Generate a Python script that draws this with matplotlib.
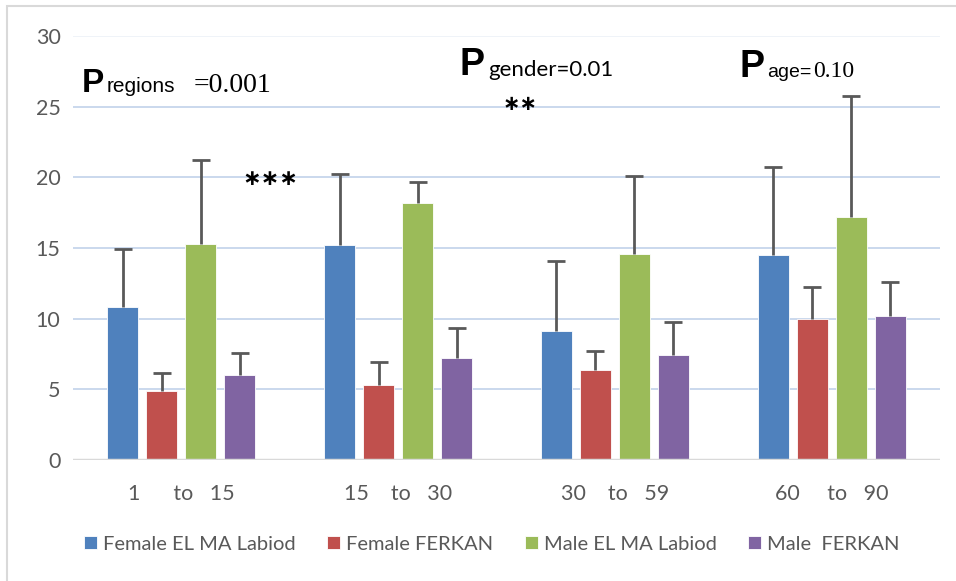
import numpy as np
import matplotlib
matplotlib.use("Agg")
from matplotlib import pyplot as plt
from matplotlib.patches import Rectangle

age_groups = ["1      to   15", "15    to   30", "30    to   59", "60     to   90"]
series = ["Female EL MA Labiod", "Female FERKAN", "Male EL MA Labiod", "Male  FERKAN"]
colors = ["#4f81bd", "#c0504d", "#9bbb59", "#8064a2"]

female_labiod = [10.8, 15.2, 9.1, 14.5]
female_ferkan = [4.9, 5.3, 6.35, 9.95]
male_labiod = [15.3, 18.2, 14.55, 17.2]
male_ferkan = [6.0, 7.2, 7.4, 10.2]

female_labiod_sd = [4.1, 5.05, 4.95, 6.25]
female_ferkan_sd = [1.25, 1.65, 1.35, 2.3]
male_labiod_sd = [5.9, 1.5, 5.55, 8.55]
male_ferkan_sd = [1.55, 2.15, 2.35, 2.4]

means = [female_labiod, female_ferkan, male_labiod, male_ferkan]
sds = [female_labiod_sd, female_ferkan_sd, male_labiod_sd, male_ferkan_sd]

W, H = 956, 581
fig = plt.figure(figsize=(W / 100, H / 100), dpi=100)
plt.rcParams['font.family'] = ['Lato', 'DejaVu Sans']

# outer frame of the chart area
fig.patches.append(Rectangle((7 / W, -0.1), 1.2, (H - 6) / H + 0.1, transform=fig.transFigure,
                             fill=False, edgecolor="#d9d9d9", linewidth=1.5))

ax = fig.add_axes([73 / W, 121 / H, (940 - 73) / W, (460 - 36) / H])

x = np.arange(len(age_groups))
width = 0.143
step = 0.18
for i, (m, s) in enumerate(zip(means, sds)):
    pos = x + (i - 1.5) * step
    m = np.array(m)
    top = m + np.array(s)
    ax.bar(pos, m, width, color=colors[i], label=series[i], zorder=3,
           edgecolor="white", linewidth=0.6)
    # upper error bars only
    ax.vlines(pos, m, top, color="#595959", linewidth=2, zorder=4)
    ax.plot(pos, top, linestyle="none", marker="_", markersize=13, markeredgewidth=2,
            color="#595959", zorder=4)

ax.set_xlim(-0.5, 3.5)
ax.set_ylim(0, 30)
ax.set_yticks(range(0, 31, 5))
for v in range(5, 26, 5):
    ax.axhline(v, color="#c6d6ec", linewidth=1.3, zorder=1)
ax.axhline(30, color="#eef2f8", linewidth=1.3, zorder=1)
ax.axhline(0, color="#d9d9d9", linewidth=2.5, zorder=5)

for sp in ax.spines.values():
    sp.set_visible(False)
ax.tick_params(length=0, labelsize=15.5, labelcolor="#595959")
ax.tick_params(axis="y", pad=9)
ax.tick_params(axis="x", pad=17)
ax.set_xticks(x)
ax.set_xticklabels(age_groups)

fig.legend(loc="center", bbox_to_anchor=(0.5 + 14 / W, 1 - 544 / H), ncol=4, frameon=False,
           fontsize=14.5, labelcolor="#595959", handlelength=0.65, handleheight=0.65,
           handletextpad=0.3, columnspacing=1.55)


def px(xp, yp):
    return xp / W, 1 - yp / H


# p-value annotations
fig.text(*px(82, 92), "P", fontsize=24, fontweight="bold", family="Liberation Sans", va="baseline")
fig.text(*px(107, 92), "regions", fontsize=15, family="Liberation Sans", va="baseline")
fig.text(*px(194, 92), "=0.001", fontsize=20, family="Liberation Serif", va="baseline")
fig.text(*px(242, 179), "\u2217\u2217\u2217", fontsize=16, fontweight="bold",
         family="DejaVu Sans", va="center")

fig.text(*px(459, 75), "P", fontsize=27, fontweight="bold", family="Liberation Sans", va="baseline")
fig.text(*px(488, 76), "gender=0.01", fontsize=16, va="baseline")
fig.text(*px(503, 104), "\u2217\u2217", fontsize=15, fontweight="bold",
         family="DejaVu Sans", va="center")

fig.text(*px(739, 77), "P", fontsize=27, fontweight="bold", family="Liberation Sans", va="baseline")
fig.text(*px(767, 77), "age=", fontsize=14, family="Liberation Sans", va="baseline")
fig.text(*px(813, 77), "0.10", fontsize=17, family="Liberation Serif", va="baseline")

fig.savefig("out.png", dpi=100)
